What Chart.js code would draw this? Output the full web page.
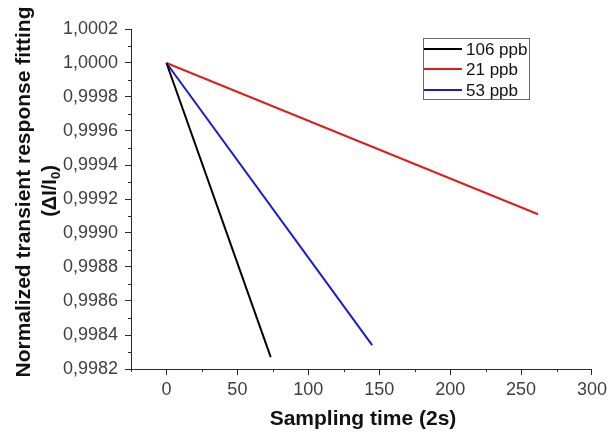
<!DOCTYPE html>
<html>
<head>
<meta charset="utf-8">
<script src="https://cdn.jsdelivr.net/npm/chart.js@4.4.1/dist/chart.umd.min.js"></script>
<style>
  html, body { margin: 0; padding: 0; background: #fff; }
  #c { display: block; }
</style>
</head>
<body>
<canvas id="c" width="611" height="436"></canvas>
<script>
// ---- Data ----
const seriesLabels = ['106 ppb', '21 ppb', '53 ppb'];
const seriesColors = ['#000000', '#d9201e', '#1a1ad0'];
const times106 = [0, 73.5];
const values106 = [1.0000, 0.99827];
const times21 = [0, 262];
const values21 = [1.0000, 0.99911];
const times53 = [0, 145];
const values53 = [1.0000, 0.99834];

const xTickValues = [0, 50, 100, 150, 200, 250, 300];
const xMinorValues = [-25, 25, 75, 125, 175, 225, 275];
const yTickValues = [0.9982, 0.9984, 0.9986, 0.9988, 0.9990, 0.9992, 0.9994, 0.9996, 0.9998, 1.0000, 1.0002];
const yMinorValues = [0.9983, 0.9985, 0.9987, 0.9989, 0.9991, 0.9993, 0.9995, 0.9997, 0.9999, 1.0001];

const xTitle = 'Sampling time (2s)';
const yTitleLine1 = 'Normalized transient response fitting';

function toPoints(xs, ys) { return xs.map((x, i) => ({ x: x, y: ys[i] })); }

const allX = [times106, times21, times53];
const allY = [values106, values21, values53];

const datasets = seriesLabels.map((lab, i) => ({
  label: lab,
  data: toPoints(allX[i], allY[i]),
  borderColor: seriesColors[i],
  backgroundColor: seriesColors[i],
  borderWidth: 2,
  pointRadius: 0,
  showLine: true,
  tension: 0
}));

const axisColor = '#2a2a2a';
const labelColor = '#404040';
const FONT = 'Liberation Sans, Arial, sans-serif';

const decorPlugin = {
  id: 'decor',
  afterDraw(chart) {
    const ctx = chart.ctx;
    const xs = chart.scales.x, ys = chart.scales.y;
    ctx.save();
    // minor ticks
    ctx.strokeStyle = axisColor;
    ctx.lineWidth = 1;
    ctx.beginPath();
    xMinorValues.forEach(v => {
      const px = Math.round(xs.getPixelForValue(v)) + 0.5;
      ctx.moveTo(px, xs.top);
      ctx.lineTo(px, xs.top + 3);
    });
    yMinorValues.forEach(v => {
      const py = Math.round(ys.getPixelForValue(v)) + 0.5;
      ctx.moveTo(ys.right, py);
      ctx.lineTo(ys.right - 3, py);
    });
    ctx.stroke();

    // x title
    ctx.fillStyle = '#111';
    ctx.font = 'bold 21px ' + FONT;
    ctx.textAlign = 'center';
    ctx.textBaseline = 'middle';
    ctx.fillText(xTitle, 363, 419);

    // y title line 1
    ctx.save();
    ctx.translate(24, 192);
    ctx.rotate(-Math.PI / 2);
    ctx.fillText(yTitleLine1, 0, 0);
    ctx.restore();

    // y title line 2 with subscript
    ctx.save();
    ctx.translate(50, 191);
    ctx.rotate(-Math.PI / 2);
    const p1 = '(\u0394I/I', sub = '0', p2 = ')';
    ctx.font = 'bold 20px ' + FONT;
    const w1 = ctx.measureText(p1).width, w3 = ctx.measureText(p2).width;
    ctx.font = 'bold 13px ' + FONT;
    const w2 = ctx.measureText(sub).width;
    const total = w1 + w2 + w3;
    let x0 = -total / 2;
    ctx.textAlign = 'left';
    ctx.font = 'bold 20px ' + FONT;
    ctx.fillText(p1, x0, 0);
    ctx.font = 'bold 13px ' + FONT;
    ctx.fillText(sub, x0 + w1, 6);
    ctx.font = 'bold 20px ' + FONT;
    ctx.fillText(p2, x0 + w1 + w2, 0);
    ctx.restore();

    // legend
    const lx = 423.5, ly = 38.5, lw = 106, lh = 61;
    ctx.strokeStyle = '#6a6a6a';
    ctx.lineWidth = 1;
    ctx.strokeRect(lx, ly, lw, lh);
    const rows = [49, 69, 90];
    ctx.font = '17px ' + FONT;
    ctx.textAlign = 'left';
    ctx.textBaseline = 'middle';
    chart.data.datasets.forEach((ds, i) => {
      ctx.strokeStyle = ds.borderColor;
      ctx.lineWidth = 2;
      ctx.beginPath();
      ctx.moveTo(424, rows[i]);
      ctx.lineTo(462, rows[i]);
      ctx.stroke();
      ctx.fillStyle = '#111';
      ctx.fillText(ds.label, 466, rows[i] + 1);
    });
    ctx.restore();
  }
};

new Chart(document.getElementById('c'), {
  type: 'scatter',
  data: { datasets: datasets },
  options: {
    responsive: false,
    animation: false,
    devicePixelRatio: 1,
    layout: { padding: { top: 29, right: 15, left: 0, bottom: 0 } },
    plugins: { legend: { display: false }, tooltip: { enabled: false } },
    scales: {
      x: {
        type: 'linear',
        min: -25, max: 300,
        afterBuildTicks: (s) => { s.ticks = xTickValues.map(v => ({ value: v })); },
        afterFit: (s) => { s.height = 67; },
        grid: { drawOnChartArea: false, drawTicks: true, tickLength: 6, color: axisColor, lineWidth: 1 },
        border: { display: true, color: axisColor, width: 1 },
        ticks: { color: labelColor, font: { family: FONT, size: 18 }, padding: 4, maxRotation: 0,
          callback: (v) => String(v) },
        title: { display: false }
      },
      y: {
        type: 'linear',
        min: 0.9982, max: 1.0002,
        afterBuildTicks: (s) => { s.ticks = yTickValues.map(v => ({ value: v })); },
        afterFit: (s) => { s.width = 131; },
        grid: { drawOnChartArea: false, drawTicks: true, tickLength: 6, color: axisColor, lineWidth: 1 },
        border: { display: true, color: axisColor, width: 1 },
        ticks: { color: labelColor, font: { family: FONT, size: 18 }, padding: 7,
          callback: (v) => Number(v).toFixed(4).replace('.', ',') },
        title: { display: false }
      }
    }
  },
  plugins: [decorPlugin]
});
</script>
</body>
</html>
